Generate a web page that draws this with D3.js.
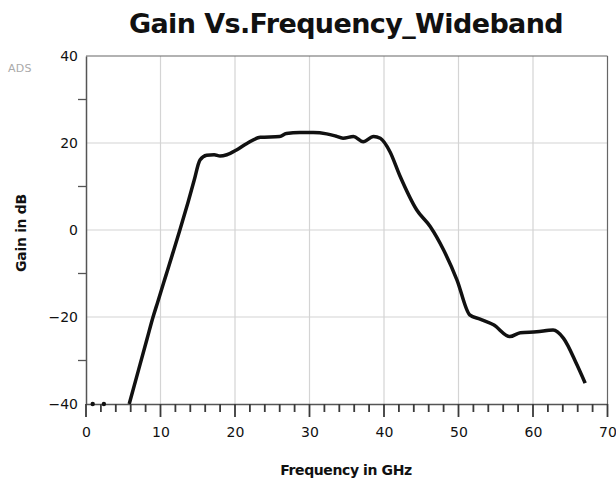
<!DOCTYPE html>
<html>
<head>
<meta charset="utf-8">
<script src="https://d3js.org/d3.v7.min.js"></script>
<style>
  body { margin: 0; background: #fff; }
  text { font-family: "DejaVu Sans", sans-serif; }
</style>
</head>
<body>
<div id="chart"></div>
<script>
// gain trace (GHz, dB)
var freq = [5.8, 7.0, 8.2, 9.0, 9.6, 10.7, 11.6, 12.6, 13.7, 14.5, 15.3, 16.2, 17.2, 18.0, 18.9,
            20.2, 21.6, 23.4, 26.0, 26.9, 28.7, 30.5, 32.3, 33.5, 34.5, 35.9, 37.2, 38.6, 39.5,
            40.8, 42.1, 44.4, 46.2, 48.0, 49.8, 51.5, 52.9, 54.7, 56.9, 58.3, 60.5,
            62.7, 64.1, 65.9, 67.0];
var gain = [-40.0, -32.5, -25.0, -20.0, -16.7, -10.6, -5.6, 0.0, 6.4, 11.3, 16.1, 17.2, 17.3, 17.0, 17.3,
            18.4, 19.9, 21.3, 21.5, 22.2, 22.4, 22.4, 22.1, 21.6, 21.1, 21.5, 20.3, 21.5, 21.1,
            18.0, 12.6, 4.6, 0.8, -4.6, -11.5, -19.5, -20.5, -21.8, -24.5, -23.6, -23.4,
            -23.0, -24.9, -31.0, -35.2];
// stray points sitting on the floor
var dotFreq = [0.9, 2.4];
var dotGain = [-40, -40];

var xTicks = [0, 10, 20, 30, 40, 50, 60, 70];
var yTicks = [-40, -20, 0, 20, 40];
var xMinorTicks = d3.range(0, 71, 2);
var yMinorTicks = [-30, -10, 10, 30];

var width = 616, height = 483;
var svg = d3.select("#chart").append("svg")
    .attr("width", width)
    .attr("height", height);

var x = d3.scaleLinear().domain([0, 70]).range([86, 607.5]);
var y = d3.scaleLinear().domain([-40, 40]).range([404, 56]);

// grid
svg.append("g")
    .selectAll("line")
    .data(xTicks.slice(1, -1))
    .enter()
    .append("line")
    .attr("x1", function(d) { return x(d); })
    .attr("x2", function(d) { return x(d); })
    .attr("y1", y(40))
    .attr("y2", y(-40))
    .attr("stroke", "#d4d4d4")
    .attr("stroke-width", 1.2);

svg.append("g")
    .selectAll("line")
    .data(yTicks.slice(1, -1))
    .enter()
    .append("line")
    .attr("x1", x(0))
    .attr("x2", x(70))
    .attr("y1", function(d) { return y(d); })
    .attr("y2", function(d) { return y(d); })
    .attr("stroke", "#d4d4d4")
    .attr("stroke-width", 1.2);

// frame top & right
svg.append("line")
    .attr("x1", x(0)).attr("x2", x(70))
    .attr("y1", y(40)).attr("y2", y(40))
    .attr("stroke", "#666").attr("stroke-width", 1.2);
svg.append("line")
    .attr("x1", x(70)).attr("x2", x(70))
    .attr("y1", y(40)).attr("y2", y(-40))
    .attr("stroke", "#666").attr("stroke-width", 1.2);

// axes: labels + baselines
var xAxis = d3.axisBottom(x).tickValues(xTicks).tickSize(0).tickPadding(23).tickFormat(d3.format("d"));
var yAxis = d3.axisLeft(y).tickValues(yTicks).tickSize(0).tickPadding(8).tickFormat(d3.format("d"));

function styleAxis(g) {
    g.selectAll("path").attr("stroke", "#555").attr("stroke-width", 1.5);
    g.selectAll("text").attr("font-size", 14).attr("fill", "#111")
        .attr("font-family", "DejaVu Sans, sans-serif");
}

svg.append("g").attr("transform", "translate(0," + y(-40) + ")").call(xAxis).call(styleAxis);
svg.append("g").attr("transform", "translate(" + x(0) + ",0)").call(yAxis).call(styleAxis);

// trace
var pts = freq.map(function(f, i) { return [f, gain[i]]; });
svg.append("path")
    .datum(pts)
    .attr("d", d3.line()
        .x(function(d) { return x(d[0]); })
        .y(function(d) { return y(d[1]); })
        .curve(d3.curveMonotoneX))
    .attr("fill", "none")
    .attr("stroke", "#111")
    .attr("stroke-width", 3.5)
    .attr("stroke-linejoin", "round");

svg.append("g")
    .selectAll("circle")
    .data(dotFreq)
    .enter()
    .append("circle")
    .attr("cx", function(d) { return x(d); })
    .attr("cy", function(d, i) { return y(dotGain[i]); })
    .attr("r", 2.2)
    .attr("fill", "#111");

// tick marks on top: x majors longer than minors
var xTickPath = xMinorTicks.map(function(d) {
    return "M" + x(d) + "," + y(-40) + "V" + (y(-40) + (d % 10 === 0 ? 13 : 8));
}).join("");
svg.append("path")
    .attr("d", xTickPath)
    .attr("stroke", "#3a3a3a")
    .attr("stroke-width", 1.8)
    .attr("fill", "none");

svg.append("g")
    .selectAll("line")
    .data(yMinorTicks)
    .enter()
    .append("line")
    .attr("x1", x(0) - 8)
    .attr("x2", x(0))
    .attr("y1", function(d) { return y(d); })
    .attr("y2", function(d) { return y(d); })
    .attr("stroke", "#555")
    .attr("stroke-width", 1.3);

// labels
svg.append("text")
    .attr("x", 346).attr("y", 33)
    .attr("text-anchor", "middle")
    .attr("font-size", 27)
    .attr("font-weight", "bold")
    .attr("letter-spacing", -0.6)
    .attr("fill", "#111")
    .text("Gain Vs.Frequency_Wideband");

svg.append("text")
    .attr("x", 346).attr("y", 475)
    .attr("text-anchor", "middle")
    .attr("font-size", 14)
    .attr("font-weight", "bold")
    .attr("letter-spacing", -0.4)
    .attr("fill", "#111")
    .text("Frequency in GHz");

svg.append("text")
    .attr("transform", "translate(26,233) rotate(-90)")
    .attr("text-anchor", "middle")
    .attr("font-size", 14)
    .attr("font-weight", "bold")
    .attr("letter-spacing", -0.3)
    .attr("fill", "#111")
    .text("Gain in dB");

svg.append("text")
    .attr("x", 8).attr("y", 72)
    .attr("font-size", 11)
    .attr("letter-spacing", 0.3)
    .attr("fill", "#aaa")
    .text("ADS");
</script>
</body>
</html>
